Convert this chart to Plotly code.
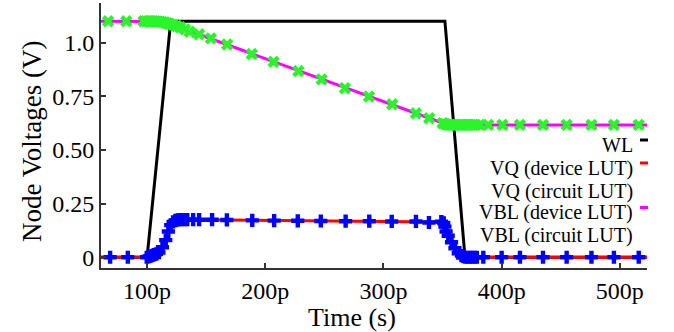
import plotly.graph_objects as go

# ---- data (time in ps, voltages in V) ----
wl_t = [61, 100, 120, 352, 369, 523]
wl_v = [0, 0, 1.1, 1.1, 0, 0]

vq_dev_t = [61, 100, 105, 110, 113, 116, 118, 120, 123, 127, 135, 200, 300, 345, 350, 352, 355, 358, 361, 364, 367, 370, 523]
vq_dev_v = [0, 0, 0.005, 0.015, 0.04, 0.08, 0.12, 0.15, 0.168, 0.174, 0.175, 0.172, 0.168, 0.164, 0.155, 0.14, 0.1, 0.07, 0.04, 0.018, 0.006, 0, 0]

vq_cir_t = [68.7, 83.7, 99.7, 101, 102, 103, 104, 105, 106, 107, 108, 110, 113, 115.8, 118, 120, 122, 124, 126, 128, 130, 132, 134,
            139, 144, 155, 167.5, 189, 207.5, 227.5, 247, 268, 288, 307, 327.5, 338.5, 349, 351, 352, 353, 354.8, 357.6, 360.5,
            363.3, 366, 367.5, 369, 371, 373, 375, 377, 379, 384.5, 400, 415.5, 435, 455, 476, 495, 516]
vq_cir_v = [0, 0, 0, 0.002, 0.004, 0.006, 0.008, 0.01, 0.012, 0.014, 0.016, 0.022, 0.047, 0.08, 0.12, 0.15, 0.165, 0.172, 0.174, 0.175, 0.175, 0.175, 0.175,
            0.175, 0.175, 0.175, 0.174, 0.172, 0.171, 0.170, 0.169, 0.168, 0.168, 0.167, 0.167, 0.162, 0.166, 0.16, 0.143, 0.12, 0.1, 0.07, 0.042,
            0.019, 0.008, 0.004, 0, 0, 0, 0, 0, 0, 0, 0, 0, 0, 0, 0, 0, 0]

vbl_dev_t = [61, 100, 110, 115, 120, 130, 140, 154, 340, 350, 355, 360, 523]
vbl_dev_v = [1.1, 1.1, 1.099, 1.095, 1.088, 1.066, 1.046, 1.02, 0.645, 0.626, 0.62, 0.617, 0.617]

vbl_cir_t = [67, 82.4, 97, 99, 101, 103, 105, 107, 109, 111, 113, 115, 117, 119, 122, 125, 128, 132, 136, 144, 154, 167.7, 188.6,
             207, 228, 247.7, 267.4, 287.7, 307.4, 327.5, 338.7, 350, 352, 354, 356, 358, 360, 362, 364, 366, 368, 370, 372,
             374, 376, 378, 381.6, 388.6, 400.7, 415.5, 435, 455, 476, 495, 516]
vbl_cir_v = [1.1, 1.1, 1.1, 1.1, 1.1, 1.1, 1.1, 1.1, 1.099, 1.098, 1.096, 1.094, 1.091, 1.088, 1.083, 1.078, 1.072, 1.062, 1.051, 1.039, 1.02, 0.992, 0.947,
             0.911, 0.868, 0.829, 0.788, 0.749, 0.713, 0.671, 0.648, 0.625, 0.621, 0.618, 0.617, 0.617, 0.617, 0.617, 0.617, 0.617, 0.617, 0.617, 0.617,
             0.617, 0.617, 0.617, 0.617, 0.617, 0.617, 0.617, 0.617, 0.617, 0.617, 0.617, 0.617]

x_ticks = [100, 200, 300, 400, 500]
x_tick_text = ["100p", "200p", "300p", "400p", "500p"]
y_ticks = [0, 0.25, 0.5, 0.75, 1.0]
y_tick_text = ["0", "0.25", "0.50", "0.75", "1.0"]

legend_names = ["WL", "VQ (device LUT)", "VQ (circuit LUT)", "VBL (device LUT)", "VBL (circuit LUT)"]
legend_colors = ["black", "red", None, "magenta", None]

FONT = "Liberation Serif"

fig = go.Figure()
fig.add_trace(go.Scatter(x=wl_t, y=wl_v, mode="lines", line=dict(color="black", width=3), name=legend_names[0]))
fig.add_trace(go.Scatter(x=vq_dev_t, y=vq_dev_v, mode="lines", line=dict(color="red", width=3), name=legend_names[1]))
fig.add_trace(go.Scatter(x=vq_cir_t, y=vq_cir_v, mode="markers",
                         marker=dict(symbol="cross", size=11, color="blue", line=dict(width=0)), name=legend_names[2]))
fig.add_trace(go.Scatter(x=vbl_dev_t, y=vbl_dev_v, mode="lines", line=dict(color="magenta", width=3), name=legend_names[3]))
fig.add_trace(go.Scatter(x=vbl_cir_t, y=vbl_cir_v, mode="markers",
                         marker=dict(symbol="x", size=11, color="#2af52a", line=dict(width=0)), name=legend_names[4]))

# plot area in pixels: left 101, right 647, top 3, bottom 268
L, R, T, B = 101, 647, 3, 268
W, H = 674, 332
pw, ph = R - L, B - T

def px(x):
    return (x - L) / pw

def py(y):
    return (B - y) / ph

annotations = []
row_y = [145, 168, 191, 212.5, 235]
for name, yy in zip(legend_names, row_y):
    annotations.append(dict(text=name, xref="paper", yref="paper", x=px(634), y=py(yy),
                            xanchor="right", yanchor="middle", showarrow=False, borderpad=0,
                            font=dict(family=FONT, size=20, color="black")))
shapes = []
for col, yy in zip(legend_colors, row_y):
    if col:
        shapes.append(dict(type="line", xref="paper", yref="paper", x0=px(640), x1=px(648),
                           y0=py(yy - 5), y1=py(yy - 5), line=dict(color=col, width=3)))

annotations.append(dict(text="Time (s)", xref="paper", yref="paper", x=px(352), y=py(317),
                        xanchor="center", yanchor="middle", showarrow=False, borderpad=0,
                        font=dict(family=FONT, size=26, color="black")))
annotations.append(dict(text="Node Voltages (V)", xref="paper", yref="paper", x=px(32), y=py(142),
                        xanchor="center", yanchor="middle", showarrow=False, textangle=-90,
                        font=dict(family=FONT, size=27, color="black")))

fig.update_layout(
    width=W, height=H,
    margin=dict(l=L, r=W - R, t=T, b=H - B),
    paper_bgcolor="white", plot_bgcolor="white",
    showlegend=False,
    annotations=annotations, shapes=shapes,
    font=dict(family=FONT, color="black"),
)
fig.update_xaxes(range=[61, 523], tickvals=x_ticks, ticktext=x_tick_text, ticks="inside", ticklen=5,
                 tickwidth=1.5, tickcolor="#333", showline=True, linecolor="#333", linewidth=2,
                 showgrid=False, zeroline=False, tickfont=dict(family=FONT, size=24, color="black"))
fig.update_yaxes(range=[-0.05, 1.185], tickvals=y_ticks, ticktext=y_tick_text, ticks="inside", ticklen=5,
                 tickwidth=1.5, tickcolor="#333", showline=True, linecolor="#333", linewidth=2,
                 showgrid=False, zeroline=False, tickfont=dict(family=FONT, size=24, color="black"))

fig.write_html("out.html")
